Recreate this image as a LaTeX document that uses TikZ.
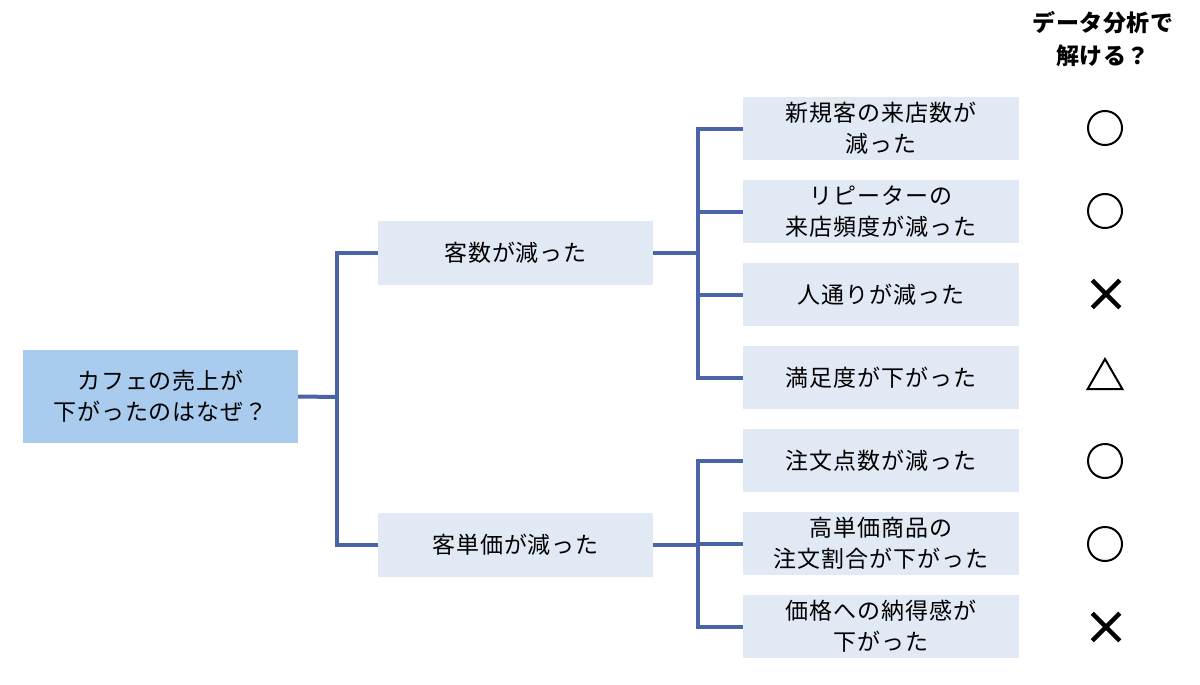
\documentclass[tikz,border=0pt]{standalone}
\usepackage{fontspec}
\usepackage{xcolor}
\usepackage{tikz}
\usetikzlibrary{shapes.geometric,shapes.misc}

\newfontfamily\jpfont[LetterSpace=4]{Noto Sans CJK JP}
\newfontfamily\jphead[LetterSpace=2]{Noto Sans CJK JP}

\definecolor{linkblue}{HTML}{4A64AA}
\definecolor{rootfill}{HTML}{A9CBEE}
\definecolor{leaffill}{HTML}{E1E9F4}

\begin{document}
\begin{tikzpicture}[x=1pt,y=-1pt,
    box/.style={fill=leaffill, minimum width=276pt, minimum height=63pt,
        inner sep=0pt, align=center, font=\jpfont\fontsize{23}{31}\selectfont},
    rootbox/.style={box, fill=rootfill, minimum width=275pt, minimum height=93pt},
    midbox/.style={box, minimum width=275pt, minimum height=64pt},
    link/.style={linkblue, line width=4pt},
    okmark/.style={circle, draw, line width=2pt, minimum size=34pt, inner sep=0pt},
    ngmark/.style={cross out, draw, line width=4.5pt, minimum size=23pt, inner sep=0pt},
    sosomark/.style={regular polygon, regular polygon sides=3, draw,
        line width=2pt, minimum size=40pt, inner sep=0pt}]
        \useasboundingbox (0,0) rectangle (1200,685);

            % Header
            \node[align=center, font=\jphead\bfseries\fontsize{23}{33}\selectfont]
                (head) at (1103,39) {データ分析で\\解ける？};

            % Boxes
            \node[rootbox] (root) at (160.5,396.5) {カフェの売上が\\下がったのはなぜ？};
            \node[midbox] (guests) at (515.5,253) {客数が減った};
            \node[midbox] (spend) at (515.5,545) {客単価が減った};

            \node[box] (newc) at (881,128.5) {新規客の来店数が\\減った};
            \node[box] (repeat) at (881,211.5) {リピーターの\\来店頻度が減った};
            \node[box] (traffic) at (881,294.5) {人通りが減った};
            \node[box] (satis) at (881,377.5) {満足度が下がった};
            \node[box] (items) at (881,460.5) {注文点数が減った};
            \node[box] (premium) at (881,543.5) {高単価商品の\\注文割合が下がった};
            \node[box] (value) at (881,626.5) {価格への納得感が\\下がった};

            % Joints
            \coordinate (j0) at (337,397);
            \coordinate (j1) at (698,253);
            \coordinate (j2) at (698,545);

            % Lines
            \draw[link] (root.east) -- (j0);
            \draw[link] (j0) |- (guests.west);
            \draw[link] (j0) |- (spend.west);

            \draw[link] (guests.east) -- (j1);
            \draw[link] (j1) |- (newc.west);
            \draw[link] (j1) |- (repeat.west);
            \draw[link] (j1) |- (traffic.west);
            \draw[link] (j1) |- (satis.west);

            \draw[link] (spend.east) -- (j2);
            \draw[link] (j2) |- (items.west);
            \draw[link] (j2) |- (premium.west);
            \draw[link] (j2) |- (value.west);

            % Marks
            \node[okmark] (m1) at (1105,128) {};
            \node[okmark] (m2) at (1105,211) {};
            \node[ngmark] (m3) at (1106,294) {};
            \node[sosomark] (m4) at (1105,379) {};
            \node[okmark] (m5) at (1105,461) {};
            \node[okmark] (m6) at (1105,544) {};
            \node[ngmark] (m7) at (1106,627) {};

        \end{tikzpicture}
\end{document}
